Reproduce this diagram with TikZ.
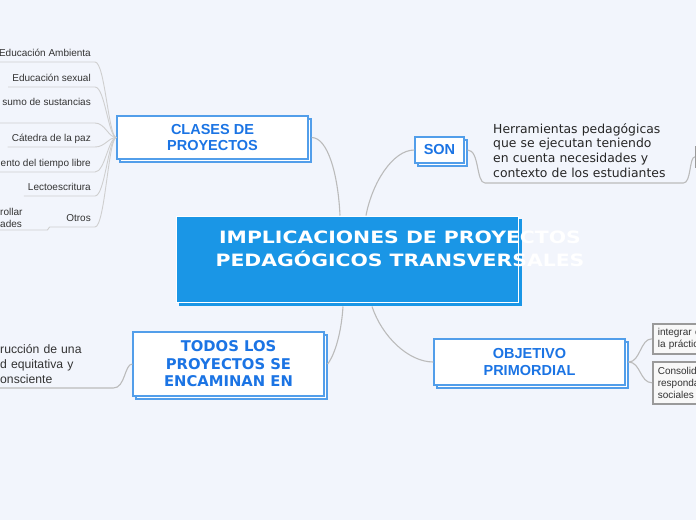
\documentclass[tikz,border=0pt]{standalone}
\usepackage{fontspec}
\setmainfont{Liberation Sans}
\newfontfamily\verdfont{DejaVu Sans}
\newfontfamily\verdwide{DejaVu Sans}[FakeStretch=1.2]
\usetikzlibrary{shadows}

\definecolor{bgcol}{HTML}{F2F5FC}
\definecolor{hubblue}{HTML}{1A96E6}
\definecolor{boxblue}{HTML}{529EEA}
\definecolor{titleblue}{HTML}{1B74E4}
\definecolor{linkgrey}{HTML}{BBBBBB}
\definecolor{leafline}{HTML}{CFCFCF}
\definecolor{leaftext}{HTML}{333333}
\definecolor{subgrey}{HTML}{9A9A9A}
\definecolor{subfill}{HTML}{F8F8F8}

\tikzset{
  hub/.style={fill=hubblue, draw=white, line width=1pt, inner sep=0pt,
    minimum width=342pt, minimum height=86pt,
    general shadow={shadow xshift=3pt, shadow yshift=-3pt, fill=hubblue, draw=hubblue}},
  hubtitle/.style={text=white, align=center, inner sep=0pt,
    font=\verdwide\bfseries\fontsize{17}{23}\selectfont},
  topic/.style={draw=boxblue, line width=1.2pt, fill=white, text=titleblue,
    align=center, inner sep=0pt, font=\bfseries\fontsize{14.5}{16.8}\selectfont,
    general shadow={shadow xshift=3pt, shadow yshift=-3pt, fill=white, draw=boxblue, line width=1.2pt}},
  topicwide/.style={font=\verdfont\bfseries\fontsize{14.8}{17.6}\selectfont},
  link/.style={draw=linkgrey, line width=1.1pt},
  leafln/.style={draw=leafline, line width=0.9pt},
  leaf/.style={anchor=south east, inner xsep=4pt, inner ysep=3.5pt, text depth=2pt,
    text=leaftext, font=\fontsize{10}{12}\selectfont},
  note/.style={align=left, text=leaftext},
  subleaf/.style={draw=subgrey, line width=1.6pt, fill=subfill, align=left,
    inner xsep=5pt, inner ysep=0pt, text=leaftext, font=\fontsize{10}{12}\selectfont}
}

\begin{document}
\begin{tikzpicture}[x=1pt, y=-1pt]
  \useasboundingbox (0,0) rectangle (696,520);
  \fill[bgcol] (0,0) rectangle (696,520);

  %% central topic
  \node[hub] (hub) at (347,259) {};
  \node[hubtitle] (hubtext) at (400,248.5) {IMPLICACIONES DE PROYECTOS\\PEDAGÓGICOS TRANSVERSALES};

  %% main topics
  \node[topic, minimum width=191pt, minimum height=43pt] (clases) at (212.5,137.5) {CLASES DE\\PROYECTOS};
  \node[topic, minimum width=49pt, minimum height=26pt] (son) at (439.5,150) {SON};
  \node[topic, topicwide, minimum width=191pt, minimum height=64pt] (todos) at (228.5,364) {TODOS LOS\\PROYECTOS SE\\ENCAMINAN EN};
  \node[topic, minimum width=191pt, minimum height=46pt] (objetivo) at (529.5,362) {OBJETIVO\\PRIMORDIAL};

  %% links from the centre
  \draw[link] ([xshift=-7pt]hub.north) .. controls +(-2,-42) and +(16,0) .. ([xshift=3pt]clases.east);
  \draw[link] ([xshift=19pt]hub.north) .. controls +(6,-32) and +(-22,0) .. (son.west);
  \draw[link] ([xshift=-4pt,yshift=-4pt]hub.south) .. controls +(-2,32) and +(5,-6) .. ([xshift=3pt]todos.east);
  \draw[link] ([xshift=25pt,yshift=-4pt]hub.south) .. controls +(10,30) and +(-25,0) .. (objetivo.west);

  %% clases de proyectos
  \node[leaf] (ambiental) at (95,62) {Educación Ambienta};
  \node[leaf] (sexual) at (95,87) {Educación sexual};
  \node[leaf, text depth=13.5pt] (consumo) at (95,123) {sumo de sustancias};
  \node[leaf] (catedra) at (95,147) {Cátedra de la paz};
  \node[leaf] (tiempo) at (95,172) {ento del tiempo libre};
  \node[leaf] (lecto) at (95,196) {Lectoescritura};
  \node[leaf, text width=37pt, align=right] (otros) at (95,227) {Otros};
  \node[note, anchor=south west, text width=45pt, inner xsep=2pt, inner ysep=2.5pt,
    font=\fontsize{10}{12}\selectfont] (desarrollar) at (-2,230) {rollar\\ades};

  \draw[leafln] (ambiental.south west) -- (ambiental.south east) .. controls +(10,0) and +(-8,0) .. (clases.west);
  \draw[leafln] (sexual.south west) -- (sexual.south east) .. controls +(10,0) and +(-8,0) .. (clases.west);
  \draw[leafln] (consumo.south west) -- (consumo.south east) .. controls +(10,0) and +(-8,0) .. (clases.west);
  \draw[leafln] (catedra.south west) -- (catedra.south east) .. controls +(10,0) and +(-8,0) .. (clases.west);
  \draw[leafln] (tiempo.south west) -- (tiempo.south east) .. controls +(10,0) and +(-8,0) .. (clases.west);
  \draw[leafln] (lecto.south west) -- (lecto.south east) .. controls +(10,0) and +(-8,0) .. (clases.west);
  \draw[leafln] (otros.south west) -- (otros.south east) .. controls +(10,0) and +(-8,0) .. (clases.west);
  \draw[leafln] (desarrollar.south west) -- (desarrollar.south east) .. controls +(2,0) and +(-2,0) .. (otros.south west);

  %% son
  \node[note, anchor=south west, text width=182pt, inner xsep=8pt, inner ysep=5.5pt,
    text=black!85, font=\verdfont\fontsize{12.4}{14.6}\selectfont] (herr) at (485,183)
    {Herramientas pedagógicas\\que se ejecutan teniendo\\en cuenta necesidades y\\contexto de los estudiantes};
  \node[subleaf, anchor=north west, minimum width=80pt, minimum height=20pt] (beyond) at (695,146) {};
  \draw[link] ([xshift=3pt]son.east) .. controls +(12,0) and +(-9,0) .. (herr.south west)
    -- (herr.south east) .. controls +(8,0) and +(-6,0) .. (beyond.west);

  %% todos los proyectos
  \node[note, anchor=south west, text width=111pt, inner xsep=2pt, inner ysep=4.5pt,
    font=\fontsize{12.2}{15}\selectfont] (sociedad) at (-2,388)
    {rucción de una\\d equitativa y\\onsciente};
  \draw[link] (sociedad.south west) -- (sociedad.south east) .. controls +(12,0) and +(-8,0) .. (todos.west);

  %% objetivo primordial
  \node[subleaf, anchor=north west, text width=80pt, minimum height=30pt] (integrar) at (652,323) {integrar c\\la práctic};
  \node[subleaf, anchor=north west, text width=80pt, minimum height=42pt] (consolidar) at (652,361) {Consolid\\responda\\sociales};
  \draw[link] ([xshift=3pt]objetivo.east) .. controls +(12,0) and +(-12,0) .. (integrar.west);
  \draw[link] ([xshift=3pt]objetivo.east) .. controls +(12,0) and +(-12,0) .. (consolidar.west);
\end{tikzpicture}
\end{document}
